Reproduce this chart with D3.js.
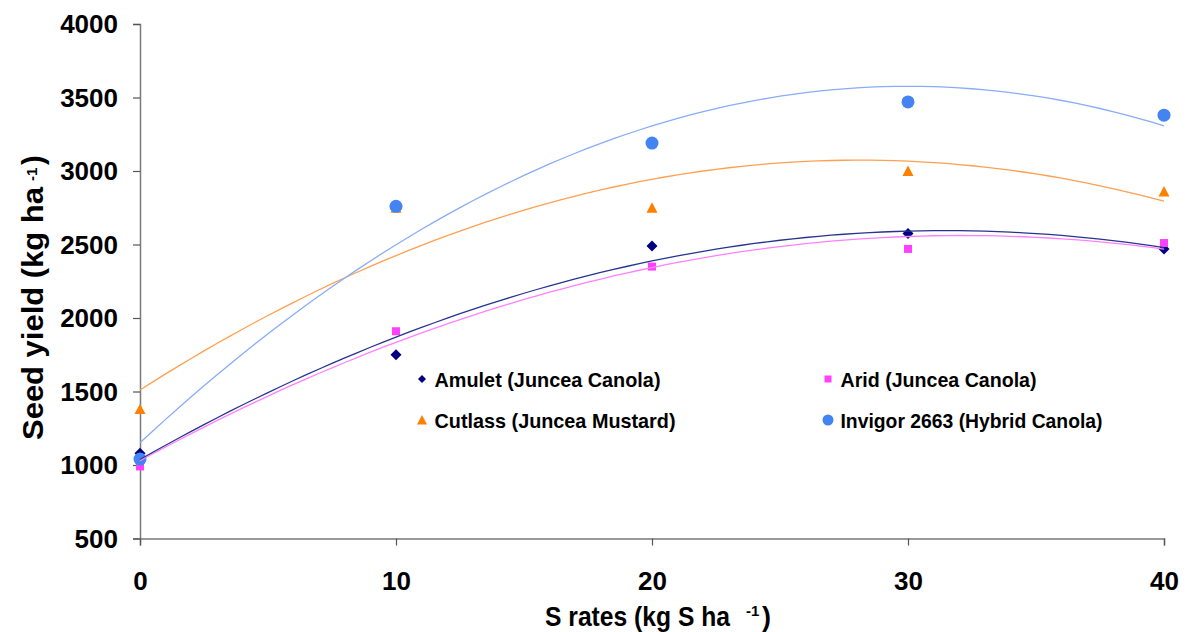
<!DOCTYPE html>
<html><head><meta charset="utf-8">
<script src="https://cdn.jsdelivr.net/npm/d3@7"></script>
<style>
html,body{margin:0;padding:0;background:#fff;}
svg{display:block;font-family:"Liberation Sans",Arial,sans-serif;font-weight:bold;}
</style>
</head><body>
<svg id="chart" width="1187" height="632"></svg>
<script>
// ---------- data ----------
const sRates = [0, 10, 20, 30, 40];
const seriesNames = ["Amulet (Juncea Canola)", "Arid (Juncea Canola)", "Cutlass (Juncea Mustard)", "Invigor 2663 (Hybrid Canola)"];
const amuletYield = [1080, 1750, 2490, 2575, 2470];
const aridYield = [990, 1910, 2350, 2470, 2510];
const cutlassYield = [1380, 2750, 2750, 3000, 2860];
const invigorYield = [1040, 2760, 3190, 3470, 3380];
const yTickValues = [500, 1000, 1500, 2000, 2500, 3000, 3500, 4000];
const xTickValues = [0, 10, 20, 30, 40];
const yTitle = "Seed yield (kg ha";
const xTitle = "S rates (kg S ha";

// ---------- styles ----------
const styles = [
  {marker: "diamond", fill: "#000080", line: "#26348f", size: 11, legSize: 8},
  {marker: "square", fill: "#ff40ff", line: "#ff80ff", size: 8, legSize: 7},
  {marker: "triangle", fill: "#ff8000", line: "#ffa050", size: 11, legSize: 10},
  {marker: "circle", fill: "#4384f2", line: "#88acf8", size: 13, legSize: 11}
];
const seriesData = [amuletYield, aridYield, cutlassYield, invigorYield];

const svg = d3.select("#chart");
svg.append("rect").attr("width", 1187).attr("height", 632).attr("fill", "#fff");

const x = d3.scaleLinear().domain([0, 40]).range([140, 1164]);
const y = d3.scaleLinear().domain([500, 4000]).range([538.5, 24]);

// ---------- custom symbol types ----------
const diamondType = {draw(ctx, s) { const h = s / 2; ctx.moveTo(0, -h); ctx.lineTo(h, 0); ctx.lineTo(0, h); ctx.lineTo(-h, 0); ctx.closePath(); }};
const triangleType = {draw(ctx, s) { const h = s / 2; ctx.moveTo(0, -h); ctx.lineTo(h, h * 0.9); ctx.lineTo(-h, h * 0.9); ctx.closePath(); }};
const squareType = {draw(ctx, s) { const h = s / 2; ctx.rect(-h, -h, s, s); }};
const circleType = {draw(ctx, s) { const r = s / 2; ctx.moveTo(r, 0); ctx.arc(0, 0, r, 0, 2 * Math.PI); }};
const typeMap = {diamond: diamondType, triangle: triangleType, square: squareType, circle: circleType};
function symPath(st, sz) { return d3.symbol().type(typeMap[st.marker]).size(sz)(); }

// ---------- axes ----------
const yAxis = d3.axisLeft(y).tickValues(yTickValues).tickSize(7).tickPadding(14).tickFormat(d3.format("d"));
const gy = svg.append("g").attr("transform", "translate(140,0)").call(yAxis);
gy.select(".domain").attr("stroke", "#7a7a7a").attr("stroke-width", 1.5);
gy.selectAll(".tick line").attr("stroke", "#555").attr("stroke-width", 1.2);
gy.selectAll(".tick text").attr("font-size", 26).attr("font-weight", "bold").attr("fill", "#000")
  .attr("font-family", "Liberation Sans, Arial, sans-serif").attr("dy", "0.33em").attr("x", -22);

const xAxis = d3.axisBottom(x).tickValues(xTickValues).tickSize(7).tickPadding(0).tickFormat(d3.format("d"));
const gx = svg.append("g").attr("transform", "translate(0,538.5)").call(xAxis);
gx.select(".domain").attr("stroke", "#7a7a7a").attr("stroke-width", 1.5);
gx.selectAll(".tick line").attr("stroke", "#555").attr("stroke-width", 1.2);
gx.selectAll(".tick text").attr("font-size", 26).attr("font-weight", "bold").attr("fill", "#000")
  .attr("font-family", "Liberation Sans, Arial, sans-serif").attr("dy", null).attr("y", 51.5);

// ---------- markers (series order) ----------
seriesData.forEach((vals, i) => {
  const st = styles[i];
  svg.append("g").selectAll("path").data(vals).join("path")
    .attr("d", symPath(st, st.size))
    .attr("transform", (d, j) => `translate(${x(sRates[j])},${y(d)})`)
    .attr("fill", st.fill);
});

// ---------- quadratic trendlines (least squares) ----------
function quadFit(xs, ys) {
  let S = [[0,0,0],[0,0,0],[0,0,0]], B = [0,0,0];
  xs.forEach((xv, k) => {
    const p = [1, xv, xv * xv];
    for (let a = 0; a < 3; a++) { B[a] += p[a] * ys[k]; for (let b = 0; b < 3; b++) S[a][b] += p[a] * p[b]; }
  });
  // Gaussian elimination
  const M = S.map((r, i) => r.concat([B[i]]));
  for (let c = 0; c < 3; c++) {
    for (let r = c + 1; r < 3; r++) { const f = M[r][c] / M[c][c]; for (let k = c; k < 4; k++) M[r][k] -= f * M[c][k]; }
  }
  const sol = [0,0,0];
  for (let r = 2; r >= 0; r--) { let s = M[r][3]; for (let k = r + 1; k < 3; k++) s -= M[r][k] * sol[k]; sol[r] = s / M[r][r]; }
  return sol;
}
const sample = d3.range(0, 40.001, 0.5);
const lineGen = d3.line().x(d => x(d[0])).y(d => y(d[1]));
seriesData.forEach((vals, i) => {
  const c = quadFit(sRates, vals);
  const pts = sample.map(t => [t, c[0] + c[1] * t + c[2] * t * t]);
  svg.append("path").attr("d", lineGen(pts)).attr("fill", "none")
    .attr("stroke", styles[i].line).attr("stroke-width", 1.3);
});

// ---------- legend ----------
const legCols = [422, 828], legRows = [379, 420];
const legLens = [226, 196, 241, 262];
seriesNames.forEach((name, i) => {
  const cx = legCols[i % 2], cy = legRows[Math.floor(i / 2)];
  const st = styles[i];
  svg.append("path").attr("d", symPath(st, st.legSize)).attr("transform", `translate(${cx},${cy})`).attr("fill", st.fill);
  svg.append("text").attr("x", cx + 12.5).attr("y", cy + 7.5).attr("font-size", 21).attr("fill", "#000")
    .attr("textLength", legLens[i]).attr("lengthAdjust", "spacingAndGlyphs").text(name);
});

// ---------- axis titles ----------
const xt = svg.append("g");
xt.append("text").attr("x", 545).attr("y", 626).attr("font-size", 27).attr("textLength", 185)
  .attr("lengthAdjust", "spacingAndGlyphs").text(xTitle);
xt.append("text").attr("x", 746).attr("y", 616).attr("font-size", 15).text("-1");
xt.append("text").attr("x", 762).attr("y", 626).attr("font-size", 27).text(")");

const yt = svg.append("g").attr("transform", "translate(43,440) rotate(-90)");
yt.append("text").attr("x", 0).attr("y", 0).attr("font-size", 29).attr("textLength", 253)
  .attr("lengthAdjust", "spacingAndGlyphs").text(yTitle);
yt.append("text").attr("x", 259).attr("y", -6).attr("font-size", 15).text("-1");
yt.append("text").attr("x", 275).attr("y", 0).attr("font-size", 29).text(")");
</script>
</body></html>
